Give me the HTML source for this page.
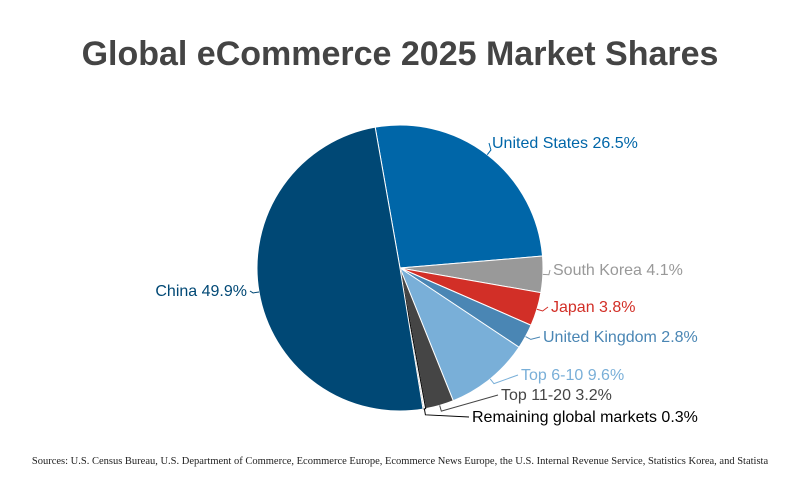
<!DOCTYPE html>
<html><head><meta charset="utf-8"><style>
body{margin:0;background:#fff;}
svg text{font-family:"Liberation Sans",sans-serif;}
</style></head><body>
<svg width="800" height="475" viewBox="0 0 800 475">
<text x="400" y="65" text-anchor="middle" font-size="34" font-weight="bold" fill="#444">Global eCommerce 2025 Market Shares</text>
<g id="pie"></g>
<g id="labels"></g>
<text x="400" y="464" text-anchor="middle" font-size="10.5" fill="#222" style="font-family:'Liberation Serif',serif">Sources: U.S. Census Bureau, U.S. Department of Commerce, Ecommerce Europe, Ecommerce News Europe, the U.S. Internal Revenue Service, Statistics Korea, and Statista</text>
</svg>
<script>
const categories=["United States","South Korea","Japan","United Kingdom","Top 6-10","Top 11-20","Remaining global markets","China"];
const values=[26.5,4.1,3.8,2.8,9.6,3.2,0.3,49.9];
const colors=["#0066a8","#999999","#d22f27","#4a86b4","#79afd8","#454545","#ffffff","#004875"];
const labelColors=["#0066a8","#999999","#d22f27","#4a86b4","#79afd8","#454545","#000000","#004875"];
const labelPos=[[492,148,"start"],[553,275,"start"],[551,312,"start"],[543,342,"start"],[521,380,"start"],[501,400,"start"],[472,422,"start"],[247,296,"end"]];
const cx=400,cy=268,r=143,start=-10;
const ns="http://www.w3.org/2000/svg";
const pie=document.getElementById('pie'),lab=document.getElementById('labels');
const total=values.reduce((a,b)=>a+b,0);
function pt(a,rr){const t=(a-90)*Math.PI/180;return [cx+rr*Math.cos(t),cy+rr*Math.sin(t)];}
let a0=start;
values.forEach((v,i)=>{
  const a1=a0+v/total*360;
  const p0=pt(a0,r),p1=pt(a1,r);
  const large=(a1-a0)>180?1:0;
  const path=document.createElementNS(ns,'path');
  path.setAttribute('d',`M${cx},${cy}L${p0[0]},${p0[1]}A${r},${r} 0 ${large} 1 ${p1[0]},${p1[1]}Z`);
  path.setAttribute('fill',colors[i]);
  path.setAttribute('stroke',i===6?'#000':'#fff');
  path.setAttribute('stroke-width',i===6?'1':'1');
  
  
  pie.appendChild(path);
  const m=(a0+a1)/2;const e=pt(m,r),e2=pt(m,r+6);
  const lp=labelPos[i];
  const lx=lp[2]==="start"?lp[0]-3:lp[0]+3;
  const line=document.createElementNS(ns,'polyline');
  line.setAttribute('points',`${e[0]},${e[1]} ${e2[0]},${e2[1]} ${lx},${lp[1]-5}`);
  line.setAttribute('fill','none');
  line.setAttribute('stroke',labelColors[i]);
  line.setAttribute('stroke-width','1');
  
  
  lab.appendChild(line);
  const t=document.createElementNS(ns,'text');
  t.setAttribute('x',lp[0]);t.setAttribute('y',lp[1]);
  t.setAttribute('text-anchor',lp[2]);
  t.setAttribute('font-size','16');
  t.setAttribute('fill',labelColors[i]);
  
  
  t.textContent=categories[i]+" "+v.toFixed(1)+"%";
  lab.appendChild(t);
  a0=a1;
});
</script>
</body></html>
